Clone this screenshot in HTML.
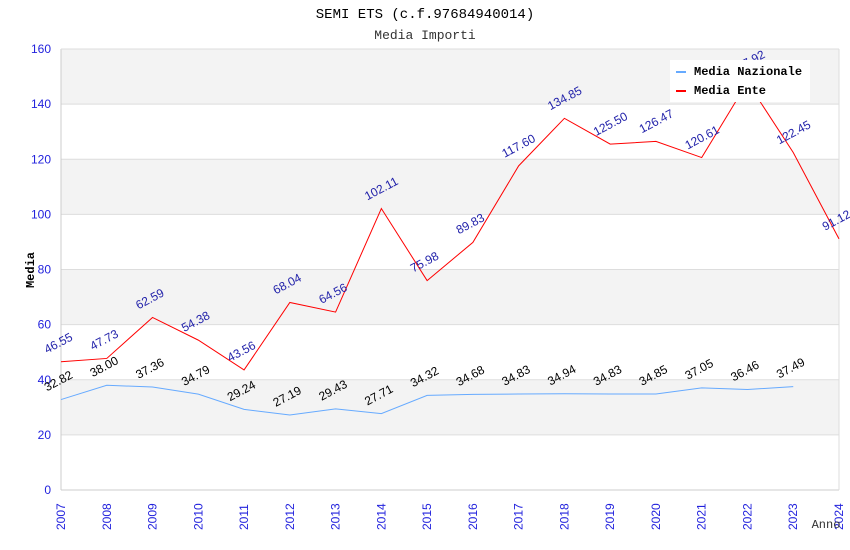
<!DOCTYPE html>
<html><head><meta charset="utf-8"><style>
body{margin:0;background:#fff;}
svg{display:block;font-family:"Liberation Sans",sans-serif;}
.mono{font-family:"Liberation Mono","DejaVu Sans Mono",monospace;}
</style></head><body>
<svg id="chart" width="850" height="550">
<text class="mono" x="425" y="18" text-anchor="middle" font-size="14" fill="#000">SEMI ETS (c.f.97684940014)</text>
<text class="mono" x="425" y="39" text-anchor="middle" font-size="13" fill="#333">Media Importi</text>
<g id="bands"></g><g id="grid"></g><g id="axes"></g><g id="series"></g><g id="labels"></g>
<text class="mono" x="34" y="270" transform="rotate(-90 34 270)" text-anchor="middle" font-size="12" font-weight="bold">Media</text>
<text class="mono" x="826" y="528" text-anchor="middle" font-size="12" fill="#333">Anno</text>
<g>
<rect x="670" y="60" width="140" height="42" fill="#fff"/>
<g><rect x="676" y="71" width="10" height="2" fill="#6af"/><text class="mono" x="694" y="75" font-size="12" font-weight="bold">Media Nazionale</text></g>
<g><rect x="676" y="90" width="10" height="2" fill="#f00"/><text class="mono" x="694" y="94" font-size="12" font-weight="bold">Media Ente</text></g>
</g>
</svg>
<script>
const years=[2007,2008,2009,2010,2011,2012,2013,2014,2015,2016,2017,2018,2019,2020,2021,2022,2023,2024];
const nazionale=[32.82,38.00,37.36,34.79,29.24,27.19,29.43,27.71,34.32,34.68,34.83,34.94,34.83,34.85,37.05,36.46,37.49];
const ente=[46.55,47.73,62.59,54.38,43.56,68.04,64.56,102.11,75.98,89.83,117.60,134.85,125.50,126.47,120.61,147.92,122.45,91.12];
const yTicks=[0,20,40,60,80,100,120,140,160];
const X0=61,X1=839,Y0=490,Y1=49;
const xs=i=>X0+(X1-X0)*i/(years.length-1);
const ys=v=>Y0-(Y0-Y1)*v/160;
const NS='http://www.w3.org/2000/svg';
function mk(p,t,a){const e=document.createElementNS(NS,t);for(const k in a)e.setAttribute(k,a[k]);document.getElementById(p).appendChild(e);return e;}
for(let i=0;i<yTicks.length-1;i++){
 if(i%2===1){const b=mk('bands','rect',{x:X0,y:ys(yTicks[i+1]),width:X1-X0,height:ys(yTicks[i])-ys(yTicks[i+1]),fill:'#f3f3f3'});
 
 }
}
yTicks.forEach(v=>{
 const l=mk('grid','line',{x1:X0,x2:X1,y1:ys(v),y2:ys(v),stroke:'#ddd'});
 
 
 const t=mk('axes','text',{x:X0-10,y:ys(v)+4,'text-anchor':'end','font-size':'12',fill:'#22d'});t.textContent=v;
 
 
});
mk('axes','line',{x1:X0,x2:X0,y1:Y1,y2:Y0,stroke:'#ccc'});
mk('axes','line',{x1:X0,x2:X1,y1:Y0,y2:Y0,stroke:'#ccc'});
mk('axes','line',{x1:X1,x2:X1,y1:Y1,y2:Y0,stroke:'#ddd'});
mk('axes','line',{x1:X0,x2:X1,y1:Y1,y2:Y1,stroke:'#ddd'});
years.forEach((y,i)=>{
 const x=xs(i)+4,yy=Y0+40;
 const t=mk('axes','text',{x:x,y:yy,transform:`rotate(-90 ${x} ${yy})`,'font-size':'12',fill:'#22d'});t.textContent=y;
 
 
});
function series(arr,color,lc,name){
 const p=mk('series','polyline',{points:arr.map((v,i)=>xs(i)+','+ys(v)).join(' '),fill:'none',stroke:color,'stroke-width':1});
 
 
 arr.forEach((v,i)=>{
  const x=xs(i)-14,y=ys(v)-8;
  const t=mk('labels','text',{x:x,y:y,transform:`rotate(-28 ${x} ${y})`,'font-size':'12',fill:lc});t.textContent=v.toFixed(2);
  
  
 });
}
series(nazionale,'#6af','#000','nazionale');
series(ente,'#f00','#22a','ente');
</script>
</body></html>
